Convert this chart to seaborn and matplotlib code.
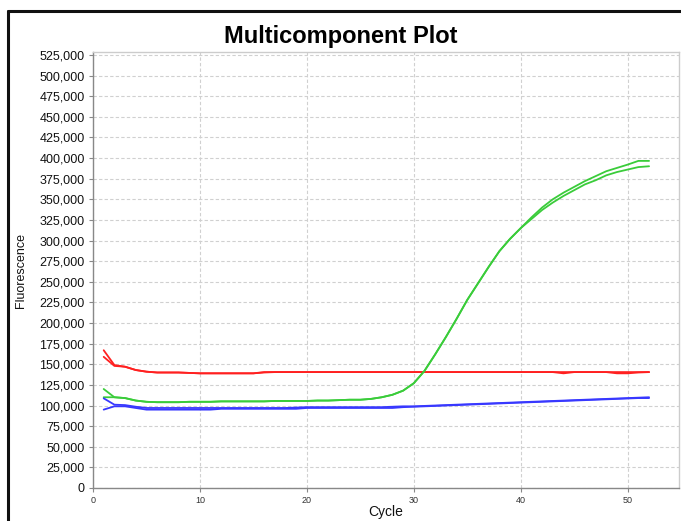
import numpy as np
import pandas as pd
import seaborn as sns
import matplotlib.pyplot as plt
from matplotlib.lines import Line2D

cycles = list(range(1, 53))

red_a = [167000, 149000, 147000, 143000, 141000, 140000, 140000, 140000, 139500, 139000,
         139000, 139000, 139000, 139000, 139000, 140500, 140500, 140500, 140500, 140500,
         140500, 140500, 140500, 140500, 140500, 140500, 140500, 140500, 140500, 140500,
         140500, 140500, 140500, 140500, 140500, 140500, 140500, 140500, 140500, 140500,
         140500, 140500, 140500, 139000, 140500, 140500, 140500, 140500, 139000, 139000,
         140000, 140500]
red_b = [159000, 148000, 147000, 143000, 141000, 140000, 140000, 140000, 139500, 139000,
         139000, 139000, 139000, 139000, 139000, 140000, 140500, 140500, 140500, 140500,
         140500, 140500, 140500, 140500, 140500, 140500, 140500, 140500, 140500, 140500,
         140500, 140500, 140500, 140500, 140500, 140500, 140500, 140500, 140500, 140500,
         140500, 140500, 140500, 140500, 140500, 140500, 140500, 140500, 140500, 140500,
         140500, 140500]
green_a = [120000, 110000, 109000, 106000, 104500, 104000, 104000, 104000, 104500, 104500,
           104500, 105000, 105000, 105000, 105000, 105000, 105500, 105500, 105500, 105500,
           106000, 106000, 106500, 107000, 107000, 108000, 110000, 113000, 118000, 127000,
           142000, 162000, 183000, 205000, 228000, 248000, 268000, 287000, 302000, 315000,
           328000, 340000, 350000, 358000, 365000, 372000, 378000, 384000, 388000, 392000,
           396500, 396500]
green_b = [110000, 110000, 109000, 106000, 104500, 104000, 104000, 104000, 104500, 104500,
           104500, 105000, 105000, 105000, 105000, 105000, 105500, 105500, 105500, 105500,
           106000, 106000, 106500, 107000, 107000, 108000, 110000, 113000, 118000, 127000,
           142000, 162000, 183000, 205000, 228000, 248000, 268000, 287000, 302000, 315000,
           326000, 337000, 346000, 354000, 361000, 368000, 373000, 379000, 383000, 386000,
           389000, 390000]
blue_a = [108700, 101000, 100500, 98500, 97000, 97000, 97000, 97000, 97000, 97000,
          97000, 97000, 97000, 97000, 97000, 97000, 97000, 97000, 97500, 98000,
          98000, 98000, 98000, 98000, 98000, 98000, 98000, 98500, 99000, 99000,
          99500, 100000, 100500, 101000, 101500, 102000, 102500, 103000, 103500, 104000,
          104500, 105000, 105500, 106000, 106500, 107000, 107500, 108000, 108500, 109000,
          109500, 110000]
blue_b = [95000, 99000, 99000, 97000, 95000, 95000, 95000, 95000, 95000, 95000,
          95000, 96000, 96000, 96000, 96000, 96000, 96000, 96000, 96000, 97000,
          97000, 97000, 97000, 97000, 97000, 97000, 97000, 97000, 98000, 98500,
          99000, 99500, 100000, 100500, 101000, 101500, 102000, 102500, 103000, 103500,
          104000, 104500, 105000, 105500, 106000, 106500, 107000, 107500, 108000, 108500,
          109000, 109000]

series = {"red_a": red_a, "red_b": red_b, "green_a": green_a, "green_b": green_b,
          "blue_a": blue_a, "blue_b": blue_b}
colors = {"red_a": "#ff2020", "red_b": "#ff2020", "green_a": "#3acc3a", "green_b": "#3acc3a",
          "blue_a": "#3838ff", "blue_b": "#3838ff"}

df = pd.concat([pd.DataFrame({"cycle": cycles, "value": v, "well": k}) for k, v in series.items()])

sns.set_style("whitegrid")
plt.rcParams['font.family'] = ['Liberation Sans', 'DejaVu Sans']
plt.rcParams['text.color'] = "#000000"
plt.rcParams['axes.labelcolor'] = "#111111"

fig = plt.figure(figsize=(6.81, 5.21), dpi=100)
ax = fig.add_axes([93 / 681, 33 / 521, 586 / 681, 436 / 521])

sns.lineplot(data=df, x="cycle", y="value", hue="well", palette=colors,
             linewidth=1.3, legend=False, ax=ax, estimator=None)

ax.set_xlim(0, 54.8)
ax.set_ylim(0, 528500)
ax.set_xticks(range(0, 51, 10))
ax.set_yticks(range(0, 525001, 25000))
ax.set_yticklabels([f"{t:,}" for t in range(0, 525001, 25000)], fontsize=9, color="#111111")
ax.set_xticklabels([str(t) for t in range(0, 51, 10)], fontsize=6.5, color="#333333")
ax.tick_params(axis="both", length=3, width=0.8, color="#888888", pad=3, bottom=True, left=True)

ax.grid(True, color="#d0d0d0", linestyle=(0, (3, 2)), linewidth=0.8)
ax.set_facecolor("white")
for side in ["left", "bottom"]:
    ax.spines[side].set_color("#888888")
    ax.spines[side].set_linewidth(1.0)
for side in ["right", "top"]:
    ax.spines[side].set_color("#cccccc")
    ax.spines[side].set_linewidth(1.0)

ax.set_xlabel("Cycle", fontsize=10)
ax.set_ylabel("Fluorescence", fontsize=9)
ax.xaxis.set_label_coords(0.5, -17 / 436)
ax.yaxis.set_label_coords(-66 / 586, 0.5)

fig.text(0.5, 1 - 37 / 521, "Multicomponent Plot", ha="center", va="center",
         fontsize=17, fontweight="bold", color="#000000")

# black frame on the left and top edges
fig.add_artist(Line2D([8 / 681, 8 / 681], [0, 1 - 11 / 521], color="#111111", lw=2.2,
                      transform=fig.transFigure))
fig.add_artist(Line2D([8 / 681, 1], [1 - 11 / 521, 1 - 11 / 521], color="#111111", lw=2.2,
                      transform=fig.transFigure))

fig.savefig("out.png", dpi=100)
